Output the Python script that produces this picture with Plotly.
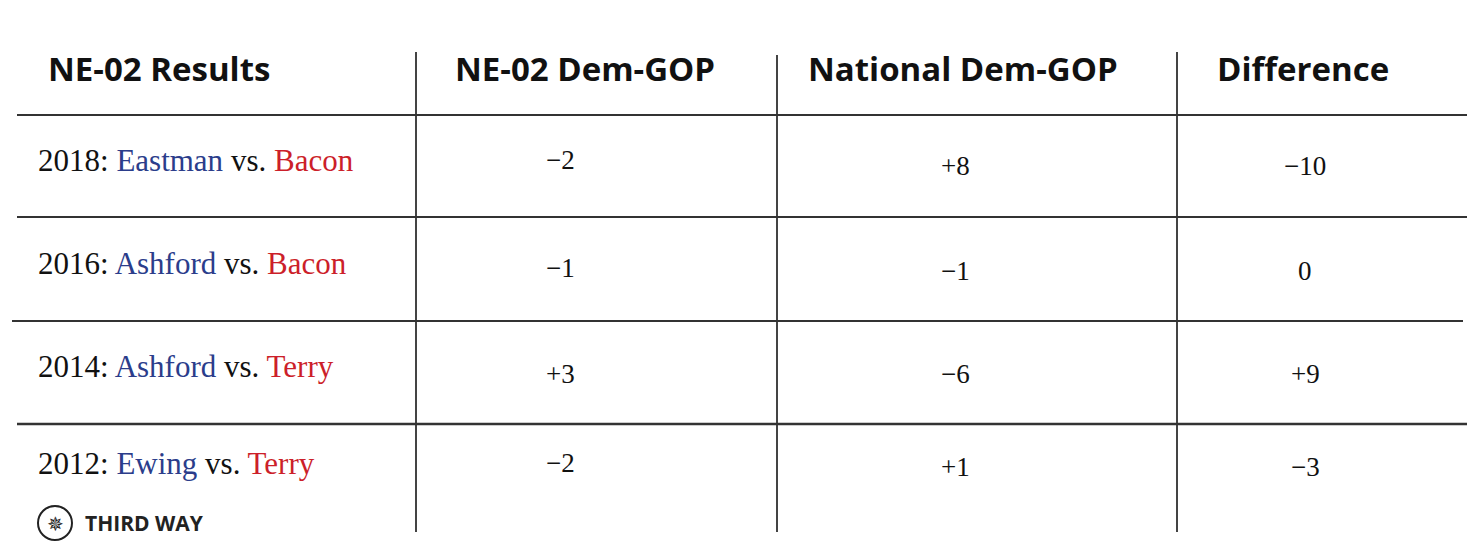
import plotly.graph_objects as go

headers = ["NE-02 Results", "NE-02 Dem-GOP", "National Dem-GOP", "Difference"]
years = ["2018", "2016", "2014", "2012"]
dems = ["Eastman", "Ashford", "Ashford", "Ewing"]
gops = ["Bacon", "Bacon", "Terry", "Terry"]
ne02 = ["−2", "−1", "+3", "−2"]
national = ["+8", "−1", "−6", "+1"]
difference = ["−10", "0", "+9", "−3"]

BLUE = "#2b3d8b"
RED = "#cc1f2a"
W, H = 1480, 555
OFF = 8

fig = go.Figure()
fig.update_layout(width=W, height=H, margin=dict(l=0, r=0, t=0, b=0),
                  paper_bgcolor="white", plot_bgcolor="white", showlegend=False,
                  xaxis=dict(range=[OFF, W + OFF], visible=False, fixedrange=True),
                  yaxis=dict(range=[H + OFF, OFF], visible=False, fixedrange=True))

line = dict(color="#444", width=2)
for x, y0 in [(416, 52), (777, 55), (1177, 52)]:
    fig.add_shape(type="line", x0=x, x1=x, y0=y0, y1=532, line=line)
for y, xa, xb, w in [(115, 17, 1467, 2), (217, 17, 1467, 2), (321, 12, 1463, 2), (424, 17, 1467, 2.5)]:
    fig.add_shape(type="line", x0=xa, x1=xb, y0=y, y1=y, line=dict(color="#333", width=w))

hfont = dict(family="Open Sans", size=33, color="#111")
hx = [46, 585, 963, 1303]
for i, h in enumerate(headers):
    fig.add_annotation(x=hx[i], y=68, text="<b>%s</b>" % h, showarrow=False,
                       xanchor="left" if i == 0 else "center", font=hfont)

row_y = [160, 263, 366, 463]
val_dy = [[0, 6, 6], [5, 8, 8], [8, 8, 8], [0, 4, 4]]
for r in range(len(years)):
    label = "%s: <span style='color:%s'>%s</span> vs. <span style='color:%s'>%s</span>" % (
        years[r], BLUE, dems[r], RED, gops[r])
    fig.add_annotation(x=36, y=row_y[r], text=label, showarrow=False, xanchor="left",
                       font=dict(family="Liberation Serif", size=31, color="#111"))
    for c, (vals, cx) in enumerate([(ne02, 560), (national, 955), (difference, 1305)]):
        fig.add_annotation(x=cx, y=row_y[r] + val_dy[r][c], text=vals[r], showarrow=False,
                           font=dict(family="Liberation Serif", size=27, color="#111"))

fig.add_shape(type="circle", x0=38, x1=72, y0=506, y1=540, line=dict(color="#222", width=2))
fig.add_annotation(x=55, y=523, text="✵", showarrow=False, font=dict(size=20, color="#222"))
fig.add_annotation(x=83, y=523, text="<b>THIRD WAY</b>", showarrow=False, xanchor="left",
                   font=dict(family="Open Sans", size=21, color="#222"))

fig.write_html("out.html")
